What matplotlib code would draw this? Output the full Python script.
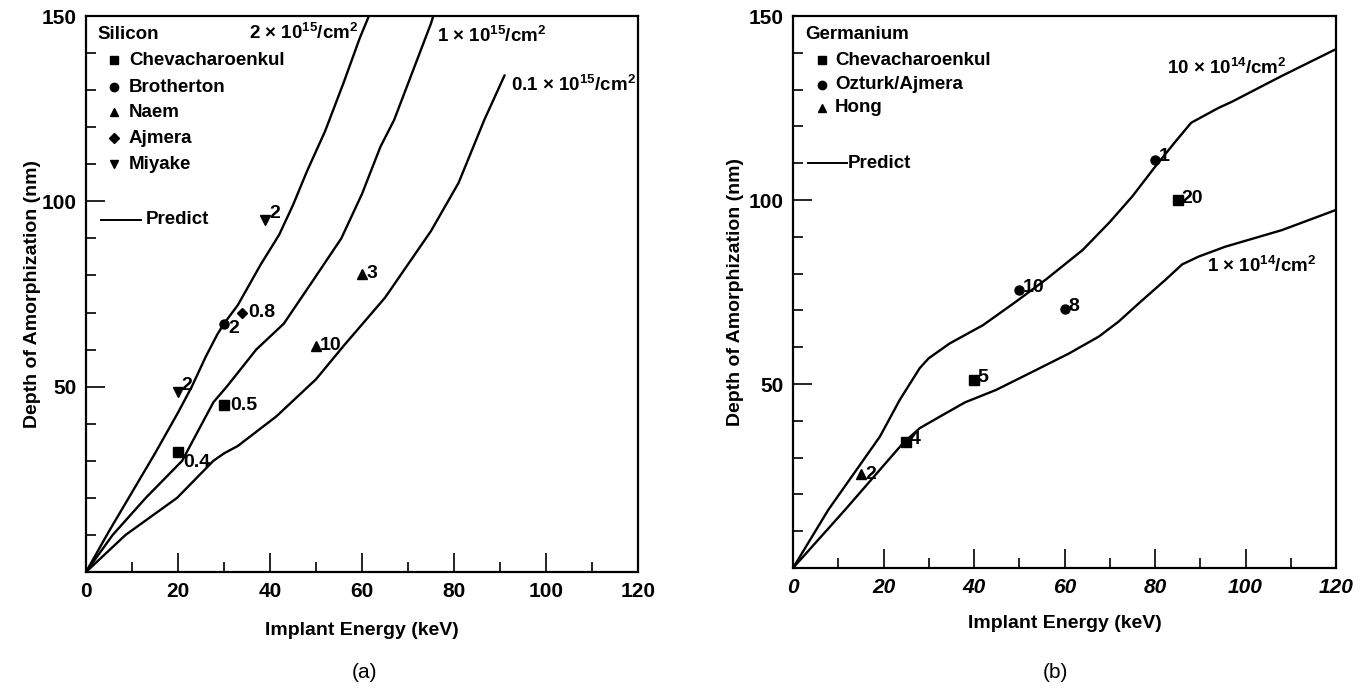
import matplotlib
matplotlib.use("Agg")
import matplotlib.pyplot as plt
from matplotlib.ticker import MultipleLocator

plt.rcParams['font.family'] = ['Liberation Sans', 'DejaVu Sans']
plt.rcParams['font.weight'] = 'bold'
plt.rcParams['mathtext.fontset'] = 'custom'
plt.rcParams['mathtext.rm'] = 'Liberation Sans:bold'
plt.rcParams['mathtext.it'] = 'Liberation Sans:bold'
plt.rcParams['mathtext.bf'] = 'Liberation Sans:bold'
plt.rcParams['mathtext.default'] = 'rm'

# ---------------- Silicon (a) ----------------
si_e_2 = [0, 5, 10, 15, 20, 23, 26, 28.5, 30, 33, 38, 42, 45, 48, 52, 56, 59.5, 61.5]
si_d_2 = [0, 11, 21.5, 32, 43, 50, 58, 64, 67, 72, 83, 91, 99, 108, 119, 132, 144, 150]
si_e_1 = [0, 5.8, 13, 20.9, 25.2, 27.7, 30.6, 37, 43, 49, 55.5, 60, 64, 67, 71, 75, 75.5]
si_d_1 = [0, 10, 20, 30, 40, 45.8, 50, 60, 67, 78, 90, 102, 114.7, 122, 135, 148, 150]
si_e_01 = [0, 8.6, 19.8, 27.7, 30, 33, 41.4, 50, 56, 65, 75, 81, 86.6, 91]
si_d_01 = [0, 10, 20, 30, 32, 34, 42, 52, 61, 74, 92, 105, 122, 134]

si_chev_e = [20, 30]; si_chev_d = [32.5, 45]; si_chev_lab = ["0.4", "0.5"]
si_brot_e = [30]; si_brot_d = [67]; si_brot_lab = ["2"]
si_naem_e = [50, 60]; si_naem_d = [61, 80.5]; si_naem_lab = ["10", "3"]
si_ajm_e = [34]; si_ajm_d = [70]; si_ajm_lab = ["0.8"]
si_miy_e = [20, 39]; si_miy_d = [48.5, 95]; si_miy_lab = ["2", "2"]

# ---------------- Germanium (b) ----------------
ge_e_10 = [0, 7.8, 19.2, 23.6, 28, 30, 34.6, 42, 49.3, 56, 64, 70, 75, 80, 84.8, 88, 90.4, 94, 97, 108, 120]
ge_d_10 = [0, 15.8, 35.7, 45.7, 54.3, 57, 61, 66, 72.4, 78.5, 86.4, 94, 101, 109, 116.3, 121, 122.6, 125, 126.7, 133.7, 141]
ge_e_1 = [0, 11.5, 24.3, 28, 32.4, 38, 44.9, 52.9, 61, 67.6, 72, 76.4, 82.3, 86, 89.6, 95.5, 108, 120]
ge_d_1 = [0, 15.8, 33.9, 38, 41.1, 45, 48.4, 53.3, 58.3, 62.9, 67, 71.9, 78.3, 82.5, 84.6, 87.3, 91.8, 97.3]

ge_chev_e = [25, 40, 85]; ge_chev_d = [34.3, 51.2, 100]; ge_chev_lab = ["4", "5", "20"]
ge_ozt_e = [50, 60, 80]; ge_ozt_d = [75.5, 70.3, 111]; ge_ozt_lab = ["10", "8", "1"]
ge_hong_e = [15]; ge_hong_d = [25.5]; ge_hong_lab = ["2"]

x_ticks = [0, 20, 40, 60, 80, 100, 120]
x_ticklabels = ["0", "20", "40", "60", "80", "100", "120"]
y_ticks = [50, 100, 150]
y_ticklabels = ["50", "100", "150"]

fig = plt.figure(figsize=(13.69, 6.98), dpi=100)
ax1 = fig.add_axes([86/1369, 1-572/698, (638-86)/1369, (572-16)/698])
ax2 = fig.add_axes([793/1369, 1-568/698, (1336-793)/1369, (568-16)/698])

lw = 1.7
ms = 6.5
for ax in (ax1, ax2):
    ax.set_xlim(0, 120)
    ax.set_ylim(0, 150)
    ax.xaxis.set_major_locator(MultipleLocator(20))
    ax.xaxis.set_minor_locator(MultipleLocator(10))
    ax.yaxis.set_major_locator(MultipleLocator(50))
    ax.yaxis.set_minor_locator(MultipleLocator(10))
    ax.tick_params(which='both', direction='in', top=False, right=False, width=1.2)
    ax.tick_params(which='major', length=14, labelsize=15, pad=7)
    ax.tick_params(which='minor', length=7)
    for s in ax.spines.values():
        s.set_linewidth(1.6)

ax1.set_ylabel("Depth of Amorphization (nm)", fontsize=14, fontweight='bold', labelpad=0)
ax2.set_ylabel("Depth of Amorphization (nm)", fontsize=14, fontweight='bold', labelpad=3)
ax1.set_xlabel("Implant Energy (keV)", fontsize=14, fontweight='bold', labelpad=15)
ax2.set_xlabel("Implant Energy (keV)", fontsize=14, fontweight='bold', labelpad=13)

ax1.set_yticks(y_ticks)
ax1.set_yticklabels(y_ticklabels, fontweight='bold')
ax1.set_xticks(x_ticks)
ax1.set_xticklabels(x_ticklabels, fontweight='bold')
ax2.set_yticks(y_ticks)
ax2.set_yticklabels(y_ticklabels, fontweight='bold')
ax2.set_xticks(x_ticks)
ax2.set_xticklabels(x_ticklabels, fontweight='bold', style='italic')

fs = 14

# Silicon curves
for e, d in [(si_e_2, si_d_2), (si_e_1, si_d_1), (si_e_01, si_d_01)]:
    ax1.plot(e, d, color='black', lw=lw, solid_joinstyle='round', solid_capstyle='round')

ax1.plot(si_chev_e, si_chev_d, 's', color='black', markersize=ms)
ax1.text(si_chev_e[0] + 1.1, si_chev_d[0] - 3, si_chev_lab[0], fontsize=fs, fontweight='bold', va='center')
ax1.text(si_chev_e[1] + 1.3, si_chev_d[1], si_chev_lab[1], fontsize=fs, fontweight='bold', va='center')
ax1.plot(si_brot_e, si_brot_d, 'o', color='black', markersize=ms)
for x, y, t in zip(si_brot_e, si_brot_d, si_brot_lab):
    ax1.text(x + 1.0, y - 1.3, t, fontsize=fs, fontweight='bold', va='center')
ax1.plot(si_naem_e, si_naem_d, '^', color='black', markersize=ms)
for x, y, t in zip(si_naem_e, si_naem_d, si_naem_lab):
    ax1.text(x + 0.9, y, t, fontsize=fs, fontweight='bold', va='center')
ax1.plot(si_ajm_e, si_ajm_d, 'D', color='black', markersize=5.5)
for x, y, t in zip(si_ajm_e, si_ajm_d, si_ajm_lab):
    ax1.text(x + 1.2, y, t, fontsize=fs, fontweight='bold', va='center')
ax1.plot(si_miy_e, si_miy_d, 'v', color='black', markersize=ms)
for x, y, t in zip(si_miy_e, si_miy_d, si_miy_lab):
    ax1.text(x + 0.8, y + 1.8, t, fontsize=fs, fontweight='bold', va='center')

ax1.text(59.3, 145.5, r"2 $\times$ 10$^{15}$/cm$^{2}$", fontsize=13.5, ha='right', va='center')
ax1.text(76.3, 144.5, r"1 $\times$ 10$^{15}$/cm$^{2}$", fontsize=13.5, ha='left', va='center')
ax1.text(92.3, 131.5, r"0.1 $\times$ 10$^{15}$/cm$^{2}$", fontsize=13.5, ha='left', va='center')

# Silicon legend
ax1.text(2.6, 145, "Silicon", fontsize=13.5, fontweight='bold', va='center')
leg_si_names = ["Chevacharoenkul", "Brotherton", "Naem", "Ajmera", "Miyake"]
leg_si_markers = ['s', 'o', '^', 'D', 'v']
leg_si_y = [138, 130.8, 124, 117, 110]
for name, mk, y in zip(leg_si_names, leg_si_markers, leg_si_y):
    ax1.plot([6], [y], mk, color='black', markersize=6 if mk in ('o', 's') else 5.5)
    ax1.text(9.3, y, name, fontsize=13.5, fontweight='bold', va='center')
ax1.plot([3.2, 12.0], [95, 95], color='black', lw=1.4)
ax1.text(13.0, 95, "Predict", fontsize=13.5, fontweight='bold', va='center')

# Germanium curves
for e, d in [(ge_e_10, ge_d_10), (ge_e_1, ge_d_1)]:
    ax2.plot(e, d, color='black', lw=lw, solid_joinstyle='round', solid_capstyle='round')

ax2.plot(ge_chev_e, ge_chev_d, 's', color='black', markersize=ms)
for x, y, t in zip(ge_chev_e, ge_chev_d, ge_chev_lab):
    ax2.text(x + 0.8, y + 0.5, t, fontsize=fs, fontweight='bold', va='center')
ax2.plot(ge_ozt_e, ge_ozt_d, 'o', color='black', markersize=ms)
for x, y, t in zip(ge_ozt_e, ge_ozt_d, ge_ozt_lab):
    ax2.text(x + 0.8, y + 0.8, t, fontsize=fs, fontweight='bold', va='center')
ax2.plot(ge_hong_e, ge_hong_d, '^', color='black', markersize=ms)
for x, y, t in zip(ge_hong_e, ge_hong_d, ge_hong_lab):
    ax2.text(x + 1.0, y, t, fontsize=fs, fontweight='bold', va='center')

ax2.text(82.6, 136, r"10 $\times$ 10$^{14}$/cm$^{2}$", fontsize=13.5, ha='left', va='center')
ax2.text(91.4, 82, r"1 $\times$ 10$^{14}$/cm$^{2}$", fontsize=13.5, ha='left', va='center')

ax2.text(2.6, 145, "Germanium", fontsize=13.5, fontweight='bold', va='center')
leg_ge_names = ["Chevacharoenkul", "Ozturk/Ajmera", "Hong"]
leg_ge_markers = ['s', 'o', '^']
leg_ge_y = [138, 131.3, 125]
for name, mk, y in zip(leg_ge_names, leg_ge_markers, leg_ge_y):
    ax2.plot([6.4], [y], mk, color='black', markersize=6 if mk in ('o', 's') else 5.5)
    ax2.text(9.3, y, name, fontsize=13.5, fontweight='bold', va='center')
ax2.plot([3.3, 11.9], [110, 110], color='black', lw=1.4)
ax2.text(12.1, 110, "Predict", fontsize=13.5, fontweight='bold', va='center')

fig.text(365/1369, 1-672/698, "(a)", fontsize=15, fontweight='normal', ha='center', va='center')
fig.text(1055/1369, 1-672/698, "(b)", fontsize=15, fontweight='normal', ha='center', va='center')

fig.savefig("out.png", dpi=100)
